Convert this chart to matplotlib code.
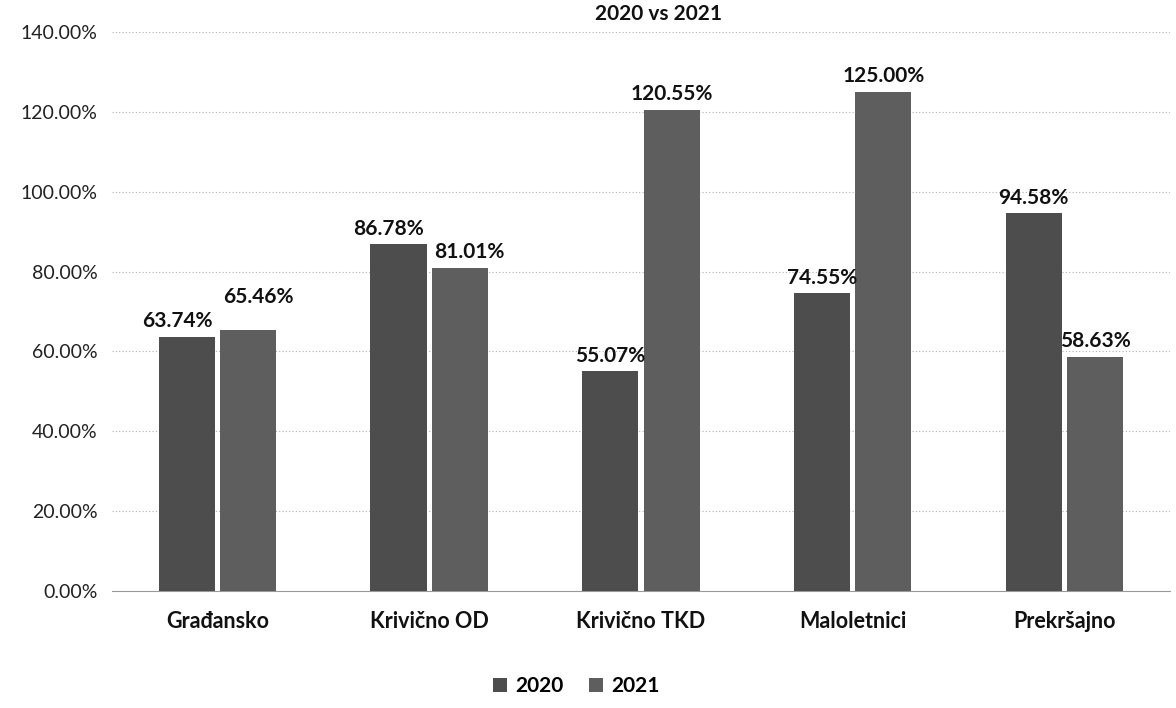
import numpy as np
import matplotlib.pyplot as plt

plt.rcParams['font.family'] = ['Lato', 'DejaVu Sans']

# data
categories = ['Građansko', 'Krivično OD', 'Krivično TKD', 'Maloletnici', 'Prekršajno']
values_2020 = [63.74, 86.78, 55.07, 74.55, 94.58]
values_2021 = [65.46, 81.01, 120.55, 125.00, 58.63]
series_names = ['2020', '2021']
title = '2020 vs 2021'

fig = plt.figure(figsize=(11.76, 7.08), dpi=100)
ax = fig.add_axes([0.095, 0.165, 0.9, 0.79])

x = np.arange(len(categories))
w = 0.265
off = 0.145
b1 = ax.bar(x - off, values_2020, w, color='#4d4d4d', label=series_names[0], zorder=3)
b2 = ax.bar(x + off, values_2021, w, color='#5e5e5e', label=series_names[1], zorder=3)

# data labels; spread a pair apart when they would collide
for i in range(len(categories)):
    v1, v2 = values_2020[i], values_2021[i]
    close = abs(v1 - v2) < 10
    for r, v, other, side in [(b1[i], v1, v2, -1), (b2[i], v2, v1, 1)]:
        dy = 4
        dx = 7 * side if close else 0
        if abs(v - other) < 4 and v > other:
            dy = 16
        ax.annotate(f'{v:.2f}%', (r.get_x() + r.get_width() / 2, v),
                    xytext=(dx, dy), textcoords='offset points',
                    ha='center', va='bottom', fontsize=15, fontweight='bold', color='#111111')

ax.set_ylim(0, 140)
ax.set_xlim(-0.5, len(categories) - 0.5)
ax.set_yticks(np.arange(0, 141, 20))
ax.set_yticklabels([f'{t:.2f}%' for t in np.arange(0, 141, 20)], fontsize=14, color='#222222')
ax.set_xticks(x)
ax.set_xticklabels(categories, fontsize=15.5, fontweight='bold', color='#111111')
ax.tick_params(axis='both', length=0, pad=10)
ax.tick_params(axis='x', pad=14)
ax.grid(axis='y', color='#b0b0b0', linestyle=(0, (1, 2)), linewidth=0.8, zorder=0)
for s in ['left', 'right', 'top']:
    ax.spines[s].set_visible(False)
ax.spines['bottom'].set_color('#999999')

leg = fig.legend(handles=[b1, b2], labels=series_names, loc='lower center', ncol=2,
                 bbox_to_anchor=(0.49, -0.01), frameon=False, handlelength=0.7, handleheight=0.7,
                 columnspacing=1.2, handletextpad=0.4,
                 prop={'size': 15, 'weight': 'bold'})

fig.text(0.56, 0.995, title, ha='center', va='top', fontsize=15, fontweight='bold', color='#111111')

fig.savefig('out.png', dpi=100)
